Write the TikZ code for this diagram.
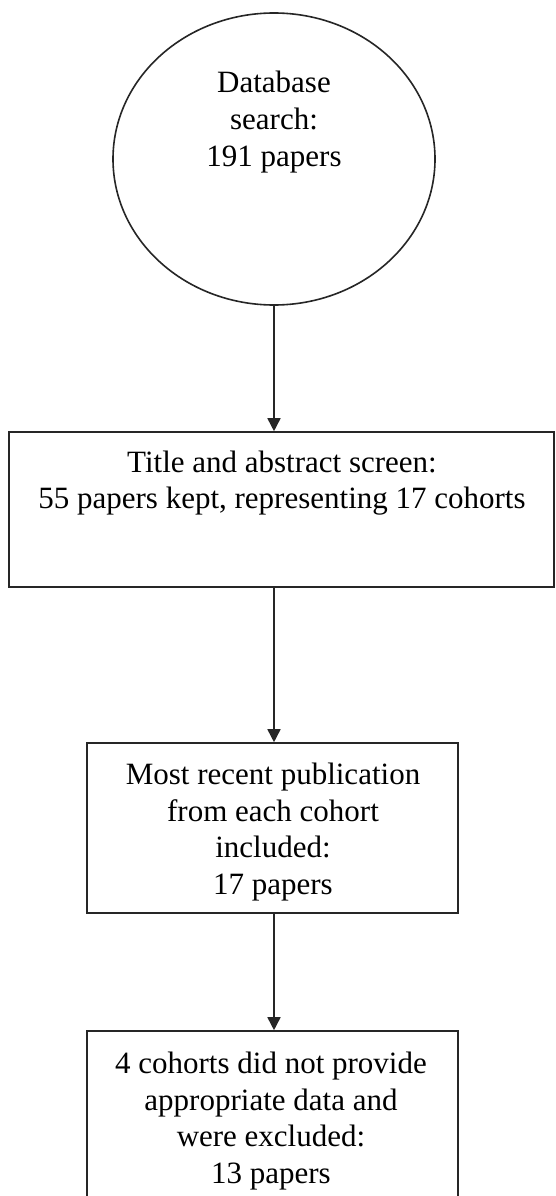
\documentclass[tikz,border=0pt]{standalone}
\usepackage{fontspec}
\setmainfont{Liberation Serif}
\usetikzlibrary{shapes.geometric,arrows.meta}
\begin{document}
\begin{tikzpicture}[x=1pt,y=-1pt,
  shapeline/.style={draw=black!85,line width=1.6pt},
  stagebox/.style={shapeline,rectangle,inner sep=0pt},
  startoval/.style={shapeline,ellipse,inner sep=0pt},
  txt/.style={align=center,inner sep=0pt,font=\fontsize{31}{36.8}\selectfont},
  flow/.style={draw=black!85,line width=1.6pt,-{Triangle[width=13pt,length=13pt]}}]
\useasboundingbox (0,0) rectangle (555,1196);
\clip (0,0) rectangle (555,1196);
\fill[white] (0,0) rectangle (555,1196);
\node[startoval,minimum width=322pt,minimum height=292pt] (e) at (274,159) {};
\node[txt] (et) at (274,122) {Database\\search:\\191 papers};
\node[stagebox,minimum width=545pt,minimum height=155pt] (b1) at (281.5,509.5) {};
\node[txt] (t1) at (282,483) {Title and abstract screen:\\55 papers kept, representing 17 cohorts};
\node[stagebox,minimum width=371pt,minimum height=170pt] (b2) at (272.5,828) {};
\node[txt] (t2) at (273,832) {Most recent publication\\from each cohort\\included:\\17 papers};
\node[stagebox,minimum width=371pt,minimum height=180pt] (b3) at (272.5,1121) {};
\node[txt] (t3) at (271,1121) {4 cohorts did not provide\\appropriate data and\\were excluded:\\13 papers};
\draw[flow] (e.south) -- (e.south |- b1.north);
\draw[flow] (e.south |- b1.south) -- (e.south |- b2.north);
\draw[flow] (e.south |- b2.south) -- (e.south |- b3.north);
\end{tikzpicture}
\end{document}
